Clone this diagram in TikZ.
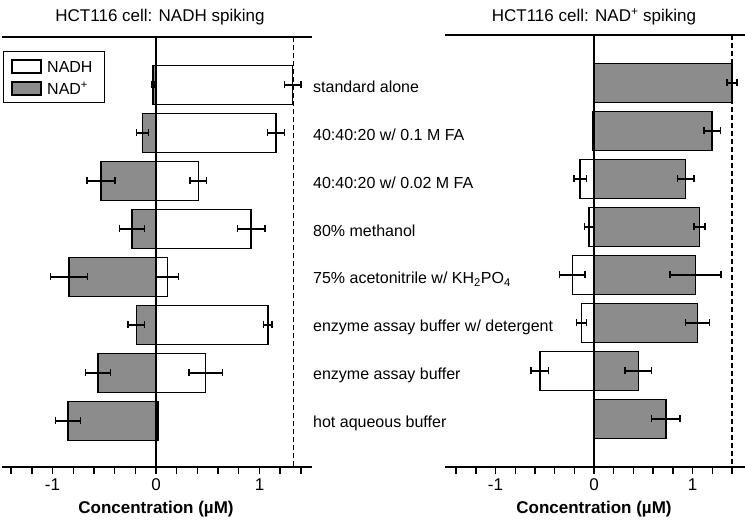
\documentclass[tikz,border=0pt]{standalone}
\usepackage{fontspec}
\setmainfont{Liberation Sans}
\begin{document}
\begin{tikzpicture}[x=1pt,y=-1pt,
  ax/.style={line width=1.4pt},
  dsh/.style={line width=1.4pt,dash pattern=on 5pt off 3pt},
  bar/.style={draw=black,line width=1.5pt},
  nadh/.style={bar,fill=white},
  nadp/.style={bar,fill=black!45},
  err/.style={line width=1.4pt},
  lbl/.style={anchor=west,font=\fontsize{16}{18}\selectfont,inner sep=0},
  tit/.style={font=\fontsize{17}{19}\selectfont},
  tl/.style={font=\fontsize{17}{19}\selectfont},
  xl/.style={font=\bfseries\fontsize{17}{19}\selectfont}]
\useasboundingbox (0,0) rectangle (745,521);
% ---------- left panel ----------
\node[tit] (t1) at (160,17) {HCT116 cell: NADH spiking};
\draw[ax] (2,37) -- (312,37);
\draw[ax] (2,467) -- (312,467);
\begin{scope}[shift={(156,0)},x=103.5pt]
\foreach \r/\vp/\ep/\vh/\eh [count=\i] in {
  1/-0.03/0.015/1.32/0.08, 2/-0.13/0.06/1.16/0.08, 3/-0.53/0.135/0.41/0.08,
  4/-0.23/0.12/0.92/0.135, 5/-0.84/0.18/0.11/0.11, 6/-0.19/0.08/1.08/0.04,
  7/-0.56/0.12/0.48/0.16, 8/-0.85/0.12/0.02/0.0}{
  \pgfmathsetmacro\yc{85+48*(\r-1)}
  \draw[nadh] (0,\yc-19.5) rectangle (\vh,\yc+19.5);
  \draw[nadp] (0,\yc-19.5) rectangle (\vp,\yc+19.5);
  \draw[err] (\vh-\eh,\yc) -- (\vh+\eh,\yc) (\vh-\eh,\yc-3.5) -- (\vh-\eh,\yc+3.5) (\vh+\eh,\yc-3.5) -- (\vh+\eh,\yc+3.5);
  \draw[err] (\vp-\ep,\yc) -- (\vp+\ep,\yc) (\vp-\ep,\yc-3.5) -- (\vp-\ep,\yc+3.5) (\vp+\ep,\yc-3.5) -- (\vp+\ep,\yc+3.5);
}
\draw[ax] (0,37) -- (0,467);
\draw[dsh] (1.33,37) -- (1.33,467);
\foreach \t in {-1.4,-1.2,...,1.41} \draw[ax] (\t,467) -- (\t,474);
\node[tl] (l1a) at (-1,485) {-1};
\node[tl] (l1b) at (0,485) {0};
\node[tl] (l1c) at (1,485) {1};
\end{scope}
\node[xl] (x1) at (156,509) {Concentration (µM)};
% legend
\node[draw,line width=1pt,minimum width=101pt,minimum height=51pt] (leg) at (53.5,77.5) {};
\draw[nadh,line width=1.2pt] (12,60) rectangle (41,73);
\draw[nadp,line width=1.2pt] (12,82) rectangle (41,95);
\node[lbl] (lg1) at (47,66.5) {NADH};
\node[lbl] (lg2) at (47,88.5) {NAD\textsuperscript{+}};
% category labels
\foreach \r/\txt in {1/{standard alone}, 2/{40:40:20 w/ 0.1 M FA}, 3/{40:40:20 w/ 0.02 M FA},
  4/{80\% methanol}, 5/{75\% acetonitrile w/ KH\textsubscript{2}PO\textsubscript{4}},
  6/{enzyme assay buffer w/ detergent}, 7/{enzyme assay buffer}, 8/{hot aqueous buffer}}
  \node[lbl] (c\r) at (313,{87+48*(\r-1)}) {\txt};
% ---------- right panel ----------
\node[tit] (t2) at (594,17) {HCT116 cell: NAD\textsuperscript{+} spiking};
\draw[ax] (445,35) -- (745,35);
\draw[ax] (445,467) -- (745,467);
\begin{scope}[shift={(594,0)},x=98.5pt]
\foreach \r/\vh/\eh/\vp/\ep in {
  1/0/0/1.40/0.05, 2/-0.01/0/1.20/0.085, 3/-0.14/0.065/0.93/0.085,
  4/-0.05/0.045/1.07/0.055, 5/-0.22/0.13/1.03/0.26, 6/-0.125/0.05/1.05/0.12,
  7/-0.55/0.09/0.45/0.135, 8/0/0/0.73/0.145}{
  \pgfmathsetmacro\yc{83+48*(\r-1)}
  \draw[nadh] (0,\yc-19.5) rectangle (\vh,\yc+19.5);
  \draw[nadp] (0,\yc-19.5) rectangle (\vp,\yc+19.5);
  \draw[err] (\vp-\ep,\yc) -- (\vp+\ep,\yc) (\vp-\ep,\yc-3.5) -- (\vp-\ep,\yc+3.5) (\vp+\ep,\yc-3.5) -- (\vp+\ep,\yc+3.5);
  \ifdim \eh pt>0pt
  \draw[err] (\vh-\eh,\yc) -- (\vh+\eh,\yc) (\vh-\eh,\yc-3.5) -- (\vh-\eh,\yc+3.5) (\vh+\eh,\yc-3.5) -- (\vh+\eh,\yc+3.5);
  \fi
}
\draw[ax] (0,35) -- (0,467);
\draw[dsh] (1.40,35) -- (1.40,467);
\foreach \t in {-1.4,-1.2,...,1.41} \draw[ax] (\t,467) -- (\t,474);
\node[tl] (r1a) at (-1,485) {-1};
\node[tl] (r1b) at (0,485) {0};
\node[tl] (r1c) at (1,485) {1};
\end{scope}
\node[xl] (x2) at (594,509) {Concentration (µM)};
\end{tikzpicture}
\end{document}
